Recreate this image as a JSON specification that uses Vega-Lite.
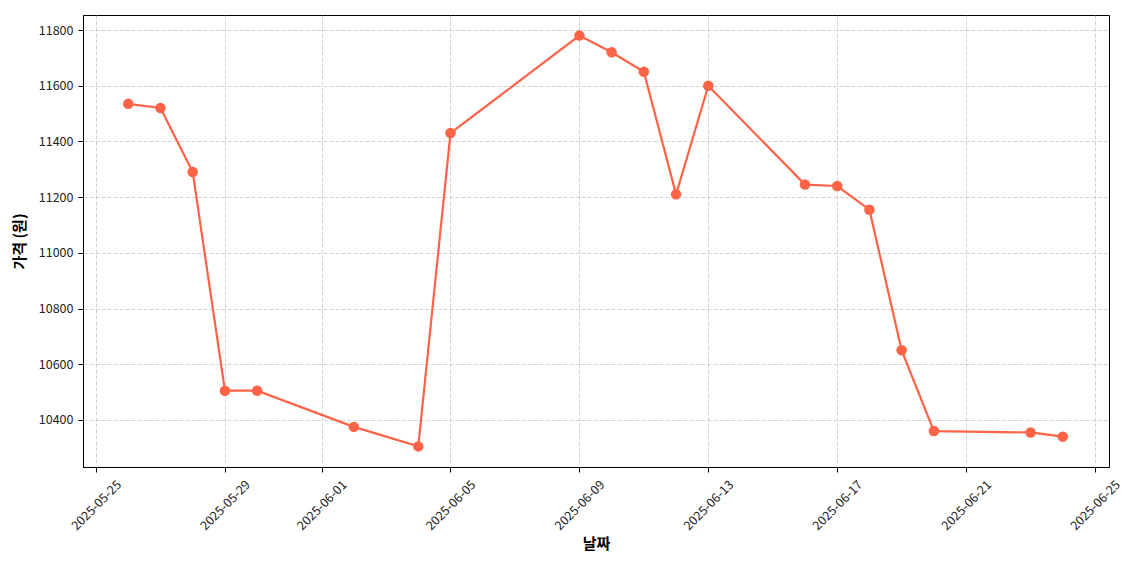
{
  "$schema": "https://vega.github.io/schema/vega-lite/v6.json",
  "width": 1026,
  "height": 452,
  "autosize": "none",
  "padding": {"left": 83, "top": 15, "right": 31, "bottom": 103},
  "background": "white",
  "config": {
    "font": "Noto Sans CJK KR",
    "view": {"stroke": "black", "strokeWidth": 1},
    "axis": {
      "domainColor": "black",
      "tickColor": "black",
      "tickSize": 5,
      "labelFont": "Noto Sans CJK KR",
      "labelFontSize": 12.5,
      "labelColor": "#222222",
      "titleFont": "Noto Sans CJK KR",
      "titleFontSize": 15,
      "titleFontWeight": "bold",
      "titleColor": "black",
      "gridColor": "#b0b0b0",
      "gridOpacity": 0.7,
      "gridDash": [4, 2],
      "gridWidth": 0.8
    }
  },
  "data": {
    "values": [
      {"date": "2025-05-26", "price": 11535},
      {"date": "2025-05-27", "price": 11520},
      {"date": "2025-05-28", "price": 11290},
      {"date": "2025-05-29", "price": 10505},
      {"date": "2025-05-30", "price": 10505},
      {"date": "2025-06-02", "price": 10375},
      {"date": "2025-06-04", "price": 10305},
      {"date": "2025-06-05", "price": 11430},
      {"date": "2025-06-09", "price": 11780},
      {"date": "2025-06-10", "price": 11720},
      {"date": "2025-06-11", "price": 11650},
      {"date": "2025-06-12", "price": 11210},
      {"date": "2025-06-13", "price": 11600},
      {"date": "2025-06-16", "price": 11245},
      {"date": "2025-06-17", "price": 11240},
      {"date": "2025-06-18", "price": 11155},
      {"date": "2025-06-19", "price": 10650},
      {"date": "2025-06-20", "price": 10360},
      {"date": "2025-06-23", "price": 10355},
      {"date": "2025-06-24", "price": 10340}
    ]
  },
  "encoding": {
    "x": {
      "field": "date",
      "type": "temporal",
      "title": "날짜",
      "scale": {
        "type": "utc",
        "domain": [{"year": 2025, "month": 5, "date": 24, "hours": 14, "minutes": 18, "utc": true}, {"year": 2025, "month": 6, "date": 25, "hours": 10, "minutes": 26, "utc": true}],
        "nice": false
      },
      "axis": {
        "values": [
          {"year": 2025, "month": 5, "date": 25, "utc": true},
          {"year": 2025, "month": 5, "date": 29, "utc": true},
          {"year": 2025, "month": 6, "date": 1, "utc": true},
          {"year": 2025, "month": 6, "date": 5, "utc": true},
          {"year": 2025, "month": 6, "date": 9, "utc": true},
          {"year": 2025, "month": 6, "date": 13, "utc": true},
          {"year": 2025, "month": 6, "date": 17, "utc": true},
          {"year": 2025, "month": 6, "date": 21, "utc": true},
          {"year": 2025, "month": 6, "date": 25, "utc": true}
        ],
        "labelExpr": "utcFormat(datum.value, '%Y-%m-%d')",
        "labelAngle": -45,
        "labelAlign": "center",
        "labelBaseline": "middle",
        "labelPadding": 33,
        "labelFlush": false,
        "labelOverlap": false,
        "titlePadding": 4,
        "grid": true
      }
    },
    "y": {
      "field": "price",
      "type": "quantitative",
      "title": "가격 (원)",
      "scale": {"domain": [10231, 11854], "nice": false, "zero": false},
      "axis": {
        "values": [10400, 10600, 10800, 11000, 11200, 11400, 11600, 11800],
        "format": "d",
        "labelPadding": 5,
        "titlePadding": 11,
        "grid": true
      }
    }
  },
  "layer": [
    {"mark": {"type": "line", "color": "#FF6347", "strokeWidth": 2.2}},
    {"mark": {"type": "point", "filled": true, "shape": "circle", "color": "#FF6347", "opacity": 1, "size": 110}}
  ]
}
